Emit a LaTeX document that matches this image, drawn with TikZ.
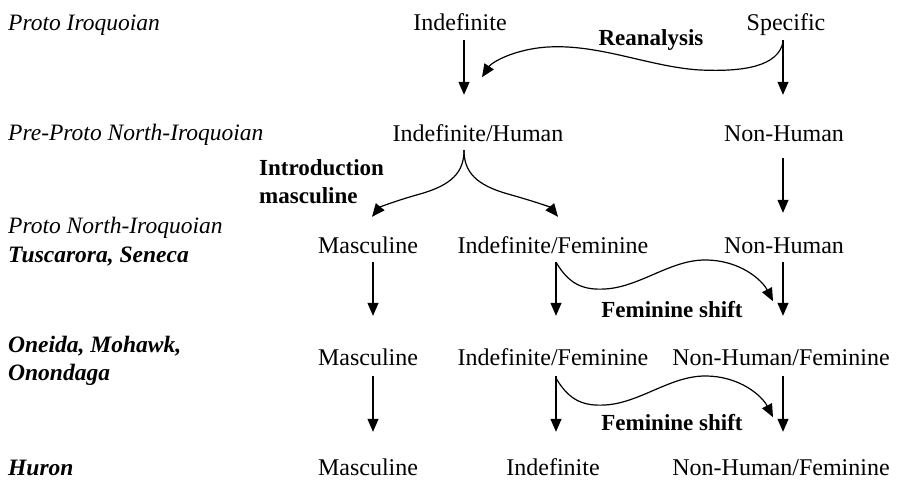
\documentclass[tikz,border=0pt]{standalone}
\usepackage{fontspec}
\setmainfont{Liberation Serif}
\usetikzlibrary{arrows.meta}
\begin{document}
\begin{tikzpicture}[x=1pt,y=-1pt,
  lbl/.style={inner sep=0pt,anchor=base,font=\fontsize{24}{28}\selectfont,text height=17pt,text depth=5pt},
  lang/.style={lbl,anchor=base west,font=\fontsize{23.5}{28}\selectfont\itshape},
  langb/.style={lang,font=\fontsize{23.5}{28}\selectfont\bfseries\itshape},
  note/.style={lbl,font=\fontsize{23}{28}\selectfont\bfseries},
  arr/.style={line width=1.2pt,-{Triangle[length=13pt,width=11pt]}}]
\useasboundingbox (0,0) rectangle (899,479);

\node[lang] (l1) at (8,30) {Proto Iroquoian};
\node[lang] (l2) at (8,140) {Pre-Proto North-Iroquoian};
\node[lang] (l3) at (8,233) {Proto North-Iroquoian};
\node[langb] (l3b) at (8,262) {Tuscarora, Seneca};
\node[langb] (l4) at (8,352) {Oneida, Mohawk,};
\node[langb] (l4b) at (8,380) {Onondaga};
\node[langb] (l5) at (8,475) {Huron};

\node[lbl] (ind1) at (460,30) {Indefinite};
\node[lbl] (spec) at (786,30) {Specific};
\node[note] (rea) at (651,45) {Reanalysis};
\node[lbl] (indh) at (478,141) {Indefinite/Human};
\node[lbl] (nh2) at (784,141) {Non-Human};
\node[note,anchor=base west] (intro) at (259,175) {Introduction};
\node[note,anchor=base west] (introm) at (259,203) {masculine};
\node[lbl] (m3) at (368,253) {Masculine};
\node[lbl] (if3) at (553,253) {Indefinite/Feminine};
\node[lbl] (nh3) at (784,253) {Non-Human};
\node[note] (fs3) at (672,317) {Feminine shift};
\node[lbl] (m4) at (368,365) {Masculine};
\node[lbl] (if4) at (553,365) {Indefinite/Feminine};
\node[lbl] (nhf4) at (781,365) {Non-Human/Feminine};
\node[note] (fs4) at (672,430) {Feminine shift};
\node[lbl] (m5) at (368,475) {Masculine};
\node[lbl] (i5) at (553,475) {Indefinite};
\node[lbl] (nhf5) at (781,475) {Non-Human/Feminine};

% straight arrows
\draw[arr] ([xshift=4pt,yshift=-5pt]ind1.south) -- ([xshift=-14pt,yshift=29pt]indh.north);
\draw[arr] ([xshift=-3pt,yshift=-5pt]spec.south) -- ([xshift=-1pt,yshift=29pt]nh2.north);
\draw[arr] ([xshift=-1pt,yshift=-12pt]nh2.south) -- ([xshift=-1pt,yshift=23pt]nh3.north);
\draw[arr] ([xshift=5pt,yshift=-4pt]m3.south) -- ([xshift=5pt,yshift=32pt]m4.north);
\draw[arr] ([xshift=3pt,yshift=-4pt]if3.south) -- ([xshift=3pt,yshift=32pt]if4.north);
\draw[arr] ([xshift=-1pt,yshift=-4pt]nh3.south) -- ([xshift=2pt,yshift=32pt]nhf4.north);
\draw[arr] ([xshift=5pt,yshift=-6pt]m4.south) -- ([xshift=5pt,yshift=26pt]m5.north);
\draw[arr] ([xshift=3pt,yshift=-6pt]if4.south) -- ([xshift=3pt,yshift=26pt]i5.north);
\draw[arr] ([xshift=2pt,yshift=-6pt]nhf4.south) -- ([xshift=2pt,yshift=26pt]nhf5.north);

% reanalysis
\draw[arr] ([xshift=-3pt,yshift=-7pt]spec.south) .. controls (778,66) and (745,72) .. (700,70)
  .. controls (650,67) and (600,44) .. (548,47)
  .. controls (515,49) and (492,62) .. ([xshift=22pt,yshift=-42pt]ind1.south);

% introduction masculine brace
\draw[arr] ([xshift=-14pt,yshift=-4pt]indh.south) .. controls (464,172) and (452,185) .. (420,194)
  .. controls (395,201) and (380,207) .. ([xshift=4pt,yshift=19pt]m3.north);
\draw[arr] ([xshift=-14pt,yshift=-4pt]indh.south) .. controls (464,172) and (476,185) .. (508,194)
  .. controls (533,201) and (550,207) .. ([xshift=5pt,yshift=19pt]if3.north);

% feminine shifts
\draw[arr] ([xshift=3pt,yshift=-4pt]if3.south) .. controls (570,286) and (585,290) .. (605,289)
  .. controls (640,287) and (670,260) .. (705,260)
  .. controls (740,260) and (762,280) .. ([xshift=-11pt,yshift=-43pt]nh3.south);
\draw[arr] ([xshift=3pt,yshift=-8pt]if4.south) .. controls (570,402) and (585,406) .. (605,405)
  .. controls (640,403) and (670,376) .. (705,376)
  .. controls (740,376) and (762,396) .. ([xshift=-8pt,yshift=-47pt]nhf4.south);
\end{tikzpicture}
\end{document}
